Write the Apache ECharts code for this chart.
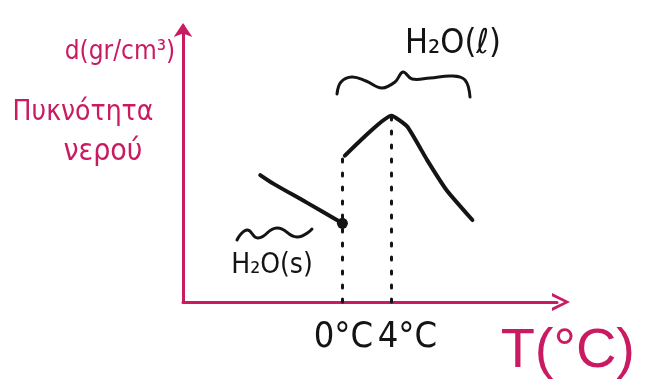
<!DOCTYPE html>
<html>
<head>
<meta charset="utf-8">
<script src="https://cdn.jsdelivr.net/npm/echarts@6/dist/echarts.min.js"></script>
<style>
  html, body { margin: 0; padding: 0; background: #ffffff; }
  #chart { width: 645px; height: 391px; }
</style>
</head>
<body>
<div id="chart"></div>
<script>
// Density of water around its freezing point (schematic units).
// Ice (solid) branch: temperature °C, density
const iceData = [[-6.7, 46], [-5.6, 42.8], [-2.9, 36], [0, 28.5]];
// Liquid branch: jumps up at 0 °C, peaks at 4 °C, then falls
const liquidData = [[0.2, 53], [4, 67.5], [5.3, 63.5], [6.9, 51.5], [8.5, 40.5], [10.6, 29.7]];
// Reference temperatures marked on the T axis
const markTemps = [0, 4];
const markLabels = ['0°C', '4°C'];
// Axis texts
const xName = 'T(°C)';
const yNameLines = ['d(gr/cm³)', 'Πυκνότητα', 'νερού'];
const liquidLabel = 'H₂O(ℓ)';
const iceLabel = 'H₂O(s)';

const PINK = '#c91a62';
const INK = '#141414';
const HAND = "'DejaVu Sans Condensed', 'DejaVu Sans', sans-serif";

// top value of each drop line = density of liquid at that temperature
function liquidAt(t) {
  for (let i = 0; i < liquidData.length - 1; i++) {
    const a = liquidData[i], b = liquidData[i + 1];
    if (t >= a[0] && t <= b[0]) return a[1] + (b[1] - a[1]) * (t - a[0]) / (b[0] - a[0]);
  }
  return liquidData[0][1];
}

const dropLines = markTemps.map((t, i) => [
  {
    coord: [t, 0],
    label: { formatter: markLabels[i], offset: [i === 0 ? 1 : 16, 0] }
  },
  { coord: [t, t === 0 ? liquidData[0][1] : liquidAt(t)] }
]);

const chevron = 'path://M0,20 L10,0 L20,20 L16.5,20 L10,6.5 L3.5,20 Z';

const chart = echarts.init(document.getElementById('chart'), null, { renderer: 'canvas' });
chart.setOption({
  backgroundColor: '#ffffff',
  animation: false,
  grid: { left: 183, right: 88, top: 26, bottom: 89 },
  xAxis: {
    type: 'value', min: -13, max: 17.5,
    name: xName,
    nameLocation: 'end',
    nameGap: 78,
    nameTextStyle: {
      color: PINK, fontSize: 56, fontFamily: "'Liberation Sans', sans-serif",
      align: 'right', verticalAlign: 'top', padding: [22, 0, 0, 0]
    },
    axisLine: {
      onZero: false,
      lineStyle: { color: PINK, width: 3 },
      symbol: ['none', chevron], symbolSize: [26, 18], symbolOffset: [0, 4]
    },
    axisTick: { show: false }, axisLabel: { show: false }, splitLine: { show: false }
  },
  yAxis: {
    type: 'value', min: 0, max: 100,
    axisLine: {
      onZero: false,
      lineStyle: { color: PINK, width: 3 },
      symbol: ['none', 'arrow'], symbolSize: [14, 14], symbolOffset: [0, 3]
    },
    axisTick: { show: false }, axisLabel: { show: false }, splitLine: { show: false }
  },
  series: [
    {
      name: 'ice', type: 'line', data: iceData, smooth: 0.3,
      lineStyle: { color: INK, width: 4, cap: 'round' },
      itemStyle: { color: INK },
      symbol: 'circle',
      symbolSize: (v, p) => (p.dataIndex === iceData.length - 1 ? 11 : 0),
      showSymbol: true, z: 3
    },
    {
      name: 'liquid', type: 'line', data: liquidData, smooth: 0.15,
      lineStyle: { color: INK, width: 4, cap: 'round', join: 'round' },
      symbol: 'none', z: 3,
      markLine: {
        silent: true, symbol: 'none',
        lineStyle: { color: INK, width: 3, type: [3, 11], cap: 'round' },
        label: {
          show: true, position: 'start', distance: 18,
          color: INK, fontSize: 36, fontFamily: HAND
        },
        data: dropLines
      }
    }
  ],
  graphic: [
    // y-axis caption
    { type: 'text', x: 120, y: 52, style: { text: yNameLines[0], fill: PINK, font: "26px " + HAND, align: 'center', verticalAlign: 'middle' } },
    { type: 'text', x: 83, y: 113, style: { text: yNameLines[1], fill: PINK, font: "28px " + HAND, align: 'center', verticalAlign: 'middle' } },
    { type: 'text', x: 103, y: 152, style: { text: yNameLines[2], fill: PINK, font: "30px " + HAND, align: 'center', verticalAlign: 'middle' } },
    // liquid phase: caption and brace
    { type: 'text', x: 453, y: 44, style: { text: liquidLabel, fill: INK, font: "34px " + HAND, align: 'center', verticalAlign: 'middle' } },
    {
      type: 'polyline',
      shape: {
        points: [[337, 94], [341, 82], [352, 77], [366, 81], [382, 88], [395, 82], [403, 72], [412, 79], [430, 78], [452, 76], [465, 80], [470, 97]],
        smooth: 0.4
      },
      style: { fill: 'none', stroke: INK, lineWidth: 3, lineCap: 'round' }
    },
    // solid phase: caption and wavy mark
    { type: 'text', x: 272, y: 266, style: { text: iceLabel, fill: INK, font: "28px " + HAND, align: 'center', verticalAlign: 'middle' } },
    {
      type: 'polyline',
      shape: {
        points: [[237, 240], [247, 230], [258, 238], [277, 228], [297, 237], [312, 229]],
        smooth: 0.5
      },
      style: { fill: 'none', stroke: INK, lineWidth: 3, lineCap: 'round' }
    }
  ]
});
</script>
</body>
</html>
